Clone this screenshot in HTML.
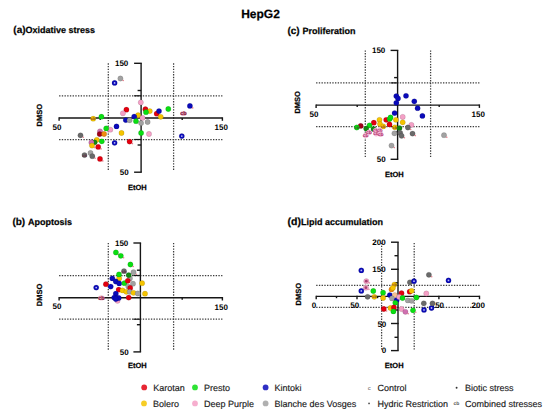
<!DOCTYPE html>
<html><head><meta charset="utf-8"><style>
html,body{margin:0;padding:0;background:#fff;overflow:hidden;width:550px;height:418px;}
text.bd{stroke:#111;stroke-width:0.25px;}
text.lg{stroke:#1a1a1a;stroke-width:0.15px;}
svg{display:block;font-family:"Liberation Sans",sans-serif;text-rendering:geometricPrecision;}
</style></head><body>
<svg width="550" height="418" viewBox="0 0 550 418">
<rect width="550" height="418" fill="#fff"/>
<text x="241.2" y="17.6" font-size="12" font-weight="bold" text-anchor="start" class="bd" >HepG2</text><text x="13.3" y="33.1" font-size="10" font-weight="bold" class="bd"><tspan>(a)</tspan><tspan font-size="9">Oxidative stress</tspan></text><text x="12.4" y="225" font-size="10" font-weight="bold" class="bd"><tspan>(b) </tspan><tspan font-size="9">Apoptosis</tspan></text><text x="287.4" y="33.6" font-size="10" font-weight="bold" class="bd"><tspan>(c) </tspan><tspan font-size="9">Proliferation</tspan></text><text x="287.6" y="224.9" font-size="10.5" font-weight="bold" class="bd"><tspan>(d)</tspan><tspan font-size="9">Lipid accumulation</tspan></text><line x1="108.3" y1="63.3" x2="108.3" y2="171.2" stroke="#3c3c3c" stroke-width="1.25" stroke-dasharray="1.35 1.35"/><line x1="173.6" y1="63.3" x2="173.6" y2="171.2" stroke="#3c3c3c" stroke-width="1.25" stroke-dasharray="1.35 1.35"/><line x1="59.1" y1="95.8" x2="222.4" y2="95.8" stroke="#3c3c3c" stroke-width="1.25" stroke-dasharray="1.35 1.35"/><line x1="59.1" y1="139.5" x2="222.4" y2="139.5" stroke="#3c3c3c" stroke-width="1.25" stroke-dasharray="1.35 1.35"/><line x1="59.1" y1="118" x2="222.4" y2="118" stroke="#161616" stroke-width="1.4"/><line x1="59.1" y1="117.3" x2="59.1" y2="120.8" stroke="#161616" stroke-width="1.4"/><line x1="222.4" y1="117.3" x2="222.4" y2="120.8" stroke="#161616" stroke-width="1.4"/><line x1="141.1" y1="63.3" x2="141.1" y2="172.2" stroke="#161616" stroke-width="1.4"/><line x1="134.1" y1="63.3" x2="141.79999999999998" y2="63.3" stroke="#161616" stroke-width="1.4"/><line x1="134.1" y1="172.2" x2="141.79999999999998" y2="172.2" stroke="#161616" stroke-width="1.4"/><line x1="137.6" y1="90.5" x2="141.1" y2="90.5" stroke="#161616" stroke-width="1.4"/><line x1="137.6" y1="145" x2="141.1" y2="145" stroke="#161616" stroke-width="1.4"/><line x1="134.1" y1="95.8" x2="141.1" y2="95.8" stroke="#161616" stroke-width="1.2"/><line x1="134.1" y1="139.5" x2="141.1" y2="139.5" stroke="#161616" stroke-width="1.2"/><line x1="100.2" y1="118" x2="100.2" y2="120" stroke="#161616" stroke-width="1.4"/><line x1="182.2" y1="118" x2="182.2" y2="120" stroke="#161616" stroke-width="1.4"/><text x="128.3" y="66.3" font-size="8" font-weight="bold" text-anchor="end" >150</text><text x="128.7" y="175.29999999999998" font-size="8" font-weight="bold" text-anchor="end" >50</text><text x="57" y="129.5" font-size="8" font-weight="bold" text-anchor="middle" >50</text><text x="221.2" y="129.79999999999998" font-size="8" font-weight="bold" text-anchor="middle" >150</text><text x="137.4" y="189.7" font-size="7.5" font-weight="bold" text-anchor="middle" class="bd" >EtOH</text><text x="0" y="0" font-size="7.5" font-weight="bold" class="bd" text-anchor="middle" transform="translate(42.4,115.2) rotate(-90)">DMSO</text><line x1="108.3" y1="243.0" x2="108.3" y2="350.9" stroke="#3c3c3c" stroke-width="1.25" stroke-dasharray="1.35 1.35"/><line x1="173.6" y1="243.0" x2="173.6" y2="350.9" stroke="#3c3c3c" stroke-width="1.25" stroke-dasharray="1.35 1.35"/><line x1="59.1" y1="275.5" x2="222.4" y2="275.5" stroke="#3c3c3c" stroke-width="1.25" stroke-dasharray="1.35 1.35"/><line x1="59.1" y1="319.2" x2="222.4" y2="319.2" stroke="#3c3c3c" stroke-width="1.25" stroke-dasharray="1.35 1.35"/><line x1="59.1" y1="297.7" x2="222.4" y2="297.7" stroke="#161616" stroke-width="1.4"/><line x1="59.1" y1="297.0" x2="59.1" y2="300.5" stroke="#161616" stroke-width="1.4"/><line x1="222.4" y1="297.0" x2="222.4" y2="300.5" stroke="#161616" stroke-width="1.4"/><line x1="140.4" y1="243.0" x2="140.4" y2="351.9" stroke="#161616" stroke-width="1.4"/><line x1="133.4" y1="243.0" x2="141.1" y2="243.0" stroke="#161616" stroke-width="1.4"/><line x1="133.4" y1="351.9" x2="141.1" y2="351.9" stroke="#161616" stroke-width="1.4"/><line x1="136.9" y1="270.2" x2="140.4" y2="270.2" stroke="#161616" stroke-width="1.4"/><line x1="136.9" y1="324.7" x2="140.4" y2="324.7" stroke="#161616" stroke-width="1.4"/><line x1="133.4" y1="275.5" x2="140.4" y2="275.5" stroke="#161616" stroke-width="1.2"/><line x1="133.4" y1="319.2" x2="140.4" y2="319.2" stroke="#161616" stroke-width="1.2"/><line x1="100.2" y1="297.7" x2="100.2" y2="299.7" stroke="#161616" stroke-width="1.4"/><line x1="182.2" y1="297.7" x2="182.2" y2="299.7" stroke="#161616" stroke-width="1.4"/><text x="128.3" y="245.99999999999997" font-size="8" font-weight="bold" text-anchor="end" >150</text><text x="128.7" y="354.99999999999994" font-size="8" font-weight="bold" text-anchor="end" >50</text><text x="57" y="309.2" font-size="8" font-weight="bold" text-anchor="middle" >50</text><text x="221.2" y="309.49999999999994" font-size="8" font-weight="bold" text-anchor="middle" >150</text><text x="137.4" y="367.6" font-size="7.5" font-weight="bold" text-anchor="middle" class="bd" >EtOH</text><text x="0" y="0" font-size="7.5" font-weight="bold" class="bd" text-anchor="middle" transform="translate(42.4,294.9) rotate(-90)">DMSO</text><line x1="365.3" y1="50.4" x2="365.3" y2="158.29999999999998" stroke="#3c3c3c" stroke-width="1.25" stroke-dasharray="1.35 1.35"/><line x1="430.6" y1="50.4" x2="430.6" y2="158.29999999999998" stroke="#3c3c3c" stroke-width="1.25" stroke-dasharray="1.35 1.35"/><line x1="316.1" y1="82.89999999999999" x2="479.4" y2="82.89999999999999" stroke="#3c3c3c" stroke-width="1.25" stroke-dasharray="1.35 1.35"/><line x1="316.1" y1="126.6" x2="479.4" y2="126.6" stroke="#3c3c3c" stroke-width="1.25" stroke-dasharray="1.35 1.35"/><line x1="316.1" y1="105.1" x2="479.4" y2="105.1" stroke="#161616" stroke-width="1.4"/><line x1="316.1" y1="104.39999999999999" x2="316.1" y2="107.89999999999999" stroke="#161616" stroke-width="1.4"/><line x1="479.4" y1="104.39999999999999" x2="479.4" y2="107.89999999999999" stroke="#161616" stroke-width="1.4"/><line x1="397.6" y1="50.4" x2="397.6" y2="159.29999999999998" stroke="#161616" stroke-width="1.4"/><line x1="390.6" y1="50.4" x2="398.3" y2="50.4" stroke="#161616" stroke-width="1.4"/><line x1="390.6" y1="159.29999999999998" x2="398.3" y2="159.29999999999998" stroke="#161616" stroke-width="1.4"/><line x1="394.1" y1="77.6" x2="397.6" y2="77.6" stroke="#161616" stroke-width="1.4"/><line x1="394.1" y1="132.1" x2="397.6" y2="132.1" stroke="#161616" stroke-width="1.4"/><line x1="390.6" y1="82.89999999999999" x2="397.6" y2="82.89999999999999" stroke="#161616" stroke-width="1.2"/><line x1="390.6" y1="126.6" x2="397.6" y2="126.6" stroke="#161616" stroke-width="1.2"/><line x1="357.2" y1="105.1" x2="357.2" y2="107.1" stroke="#161616" stroke-width="1.4"/><line x1="439.2" y1="105.1" x2="439.2" y2="107.1" stroke="#161616" stroke-width="1.4"/><text x="385.3" y="53.4" font-size="8" font-weight="bold" text-anchor="end" >150</text><text x="385.7" y="162.39999999999998" font-size="8" font-weight="bold" text-anchor="end" >50</text><text x="314" y="116.60000000000001" font-size="8" font-weight="bold" text-anchor="middle" >50</text><text x="478.2" y="116.89999999999999" font-size="8" font-weight="bold" text-anchor="middle" >150</text><text x="394.4" y="176.6" font-size="7.5" font-weight="bold" text-anchor="middle" class="bd" >EtOH</text><text x="0" y="0" font-size="7.5" font-weight="bold" class="bd" text-anchor="middle" transform="translate(300.2,102.3) rotate(-90)">DMSO</text><line x1="381.6" y1="243" x2="381.6" y2="349.6" stroke="#3c3c3c" stroke-width="1.25" stroke-dasharray="1.35 1.35"/><line x1="414.2" y1="243" x2="414.2" y2="349.6" stroke="#3c3c3c" stroke-width="1.25" stroke-dasharray="1.35 1.35"/><line x1="316.2" y1="285.4" x2="479.5" y2="285.4" stroke="#3c3c3c" stroke-width="1.25" stroke-dasharray="1.35 1.35"/><line x1="316.2" y1="307.4" x2="479.5" y2="307.4" stroke="#3c3c3c" stroke-width="1.25" stroke-dasharray="1.35 1.35"/><line x1="316.2" y1="296.4" x2="479.5" y2="296.4" stroke="#161616" stroke-width="1.4"/><line x1="316.2" y1="295.7" x2="316.2" y2="299.2" stroke="#161616" stroke-width="1.4"/><line x1="357" y1="295.7" x2="357" y2="299.2" stroke="#161616" stroke-width="1.4"/><line x1="398" y1="295.7" x2="398" y2="299.2" stroke="#161616" stroke-width="1.4"/><line x1="438.9" y1="295.7" x2="438.9" y2="299.2" stroke="#161616" stroke-width="1.4"/><line x1="479.5" y1="295.7" x2="479.5" y2="299.2" stroke="#161616" stroke-width="1.4"/><line x1="336.5" y1="296.4" x2="336.5" y2="298.2" stroke="#161616" stroke-width="1.4"/><line x1="377.6" y1="296.4" x2="377.6" y2="298.2" stroke="#161616" stroke-width="1.4"/><line x1="418.6" y1="296.4" x2="418.6" y2="298.2" stroke="#161616" stroke-width="1.4"/><line x1="459.3" y1="296.4" x2="459.3" y2="298.2" stroke="#161616" stroke-width="1.4"/><line x1="398" y1="242.2" x2="398" y2="350.6" stroke="#161616" stroke-width="1.4"/><line x1="391" y1="242.2" x2="398.7" y2="242.2" stroke="#161616" stroke-width="1.4"/><line x1="391" y1="269.3" x2="398.7" y2="269.3" stroke="#161616" stroke-width="1.4"/><line x1="391" y1="323.5" x2="398.7" y2="323.5" stroke="#161616" stroke-width="1.4"/><line x1="391" y1="350.6" x2="398.7" y2="350.6" stroke="#161616" stroke-width="1.4"/><line x1="394.5" y1="255.7" x2="398" y2="255.7" stroke="#161616" stroke-width="1.4"/><line x1="394.5" y1="282.8" x2="398" y2="282.8" stroke="#161616" stroke-width="1.4"/><line x1="394.5" y1="310" x2="398" y2="310" stroke="#161616" stroke-width="1.4"/><line x1="394.5" y1="337.3" x2="398" y2="337.3" stroke="#161616" stroke-width="1.4"/><text x="385.6" y="244.79999999999998" font-size="8" font-weight="bold" text-anchor="end" >200</text><text x="385.6" y="272.0" font-size="8" font-weight="bold" text-anchor="end" >150</text><text x="386.3" y="326.7" font-size="8" font-weight="bold" text-anchor="end" >50</text><text x="386.3" y="353.4" font-size="8" font-weight="bold" text-anchor="end" >0</text><text x="314" y="308.3" font-size="8" font-weight="bold" text-anchor="middle" >0</text><text x="354.8" y="308.3" font-size="8" font-weight="bold" text-anchor="middle" >50</text><text x="437.4" y="308.3" font-size="8" font-weight="bold" text-anchor="middle" >150</text><text x="478.3" y="308.3" font-size="8" font-weight="bold" text-anchor="middle" >200</text><text x="394.2" y="368.4" font-size="7.5" font-weight="bold" text-anchor="middle" class="bd" >EtOH</text><text x="0" y="0" font-size="7.5" font-weight="bold" class="bd" text-anchor="middle" transform="translate(301.4,294.2) rotate(-90)">DMSO</text><circle cx="140.8" cy="102.4" r="2.65" fill="#f4a0c6" stroke="#000" stroke-opacity="0.18" stroke-width="0.6"/><circle cx="126.4" cy="109.7" r="2.65" fill="#e3000f" stroke="#000" stroke-opacity="0.18" stroke-width="0.6"/><circle cx="122.9" cy="113.3" r="2.65" fill="#f4a0c6" stroke="#000" stroke-opacity="0.18" stroke-width="0.6"/><circle cx="145.4" cy="109.2" r="2.65" fill="#e3000f" stroke="#000" stroke-opacity="0.18" stroke-width="0.6"/><circle cx="149.8" cy="111.1" r="2.65" fill="#f5c400" stroke="#000" stroke-opacity="0.18" stroke-width="0.6"/><circle cx="146" cy="112.2" r="2.65" fill="#0ade12" stroke="#000" stroke-opacity="0.18" stroke-width="0.6"/><circle cx="156.7" cy="113.7" r="2.65" fill="#e3000f" stroke="#000" stroke-opacity="0.18" stroke-width="0.6"/><circle cx="159" cy="111.1" r="2.65" fill="#0a0aba" stroke="#000" stroke-opacity="0.18" stroke-width="0.6"/><circle cx="160.7" cy="116.8" r="2.65" fill="#f5c400" stroke="#000" stroke-opacity="0.18" stroke-width="0.6"/><circle cx="168.3" cy="109" r="2.65" fill="#0ade12" stroke="#000" stroke-opacity="0.18" stroke-width="0.6"/><circle cx="138.1" cy="115.2" r="2.65" fill="#f5c400" stroke="#000" stroke-opacity="0.18" stroke-width="0.6"/><circle cx="134.2" cy="116.6" r="2.65" fill="#0a0aba" stroke="#000" stroke-opacity="0.18" stroke-width="0.6"/><circle cx="125.8" cy="120.1" r="2.65" fill="#0a0aba" stroke="#000" stroke-opacity="0.18" stroke-width="0.6"/><circle cx="129.6" cy="120.3" r="2.65" fill="#a2a2a2" stroke="#000" stroke-opacity="0.18" stroke-width="0.6"/><circle cx="142.5" cy="117.9" r="2.65" fill="#f4a0c6" stroke="#000" stroke-opacity="0.18" stroke-width="0.6"/><circle cx="136" cy="121.2" r="2.65" fill="#0ade12" stroke="#000" stroke-opacity="0.18" stroke-width="0.6"/><circle cx="141.1" cy="123.1" r="2.65" fill="#a2a2a2" stroke="#000" stroke-opacity="0.18" stroke-width="0.6"/><circle cx="147.6" cy="122" r="2.65" fill="#a2a2a2" stroke="#000" stroke-opacity="0.18" stroke-width="0.6"/><circle cx="116.5" cy="126.4" r="2.65" fill="#0a0aba" stroke="#000" stroke-opacity="0.18" stroke-width="0.6"/><circle cx="110.3" cy="129.7" r="2.65" fill="#f4a0c6" stroke="#000" stroke-opacity="0.18" stroke-width="0.6"/><circle cx="121.5" cy="133" r="2.65" fill="#f5c400" stroke="#000" stroke-opacity="0.18" stroke-width="0.6"/><circle cx="141.1" cy="133" r="2.65" fill="#0ade12" stroke="#000" stroke-opacity="0.18" stroke-width="0.6"/><circle cx="149" cy="134" r="2.65" fill="#f4a0c6" stroke="#000" stroke-opacity="0.18" stroke-width="0.6"/><circle cx="129.6" cy="141.6" r="2.65" fill="#e3000f" stroke="#000" stroke-opacity="0.18" stroke-width="0.6"/><circle cx="132.4" cy="143.6" r="0.8" fill="#e06070" opacity="0.8"/><circle cx="120.4" cy="78.5" r="2.65" fill="#a2a2a2" stroke="#000" stroke-opacity="0.18" stroke-width="0.6"/><circle cx="123.2" cy="80.5" r="0.8" fill="#e06070" opacity="0.8"/><circle cx="114.6" cy="82.9" r="2.65" fill="#0a0aba" stroke="#000" stroke-opacity="0.18" stroke-width="0.6"/><circle cx="114.6" cy="82.9" r="0.9" fill="#b8b8f4"/><circle cx="189.9" cy="105.9" r="2.65" fill="#0a0aba" stroke="#000" stroke-opacity="0.18" stroke-width="0.6"/><circle cx="192.70000000000002" cy="107.9" r="0.8" fill="#e06070" opacity="0.8"/><ellipse cx="183.5" cy="113.5" rx="3.2" ry="2.3" fill="#dc98b0"/><text x="183.5" y="115.3" font-size="5.5" font-weight="bold" text-anchor="middle" fill="#80103a">cb</text><circle cx="181.8" cy="136.1" r="2.65" fill="#0a0aba" stroke="#000" stroke-opacity="0.18" stroke-width="0.6"/><circle cx="181.8" cy="136.1" r="0.9" fill="#b8b8f4"/><circle cx="93.2" cy="118.7" r="2.65" fill="#f5c400" stroke="#000" stroke-opacity="0.18" stroke-width="0.6"/><text x="93.2" y="120.10000000000001" font-size="4" font-weight="bold" text-anchor="middle" fill="#5a1030" opacity="0.7">cb</text><circle cx="101.4" cy="116.7" r="2.65" fill="#0ade12" stroke="#000" stroke-opacity="0.18" stroke-width="0.6"/><circle cx="106.2" cy="128.4" r="2.65" fill="#0ade12" stroke="#000" stroke-opacity="0.18" stroke-width="0.6"/><circle cx="100" cy="131.3" r="2.65" fill="#d070b0" stroke="#000" stroke-opacity="0.18" stroke-width="0.6"/><circle cx="99.7" cy="134.1" r="2.65" fill="#a0001a" stroke="#000" stroke-opacity="0.18" stroke-width="0.6"/><circle cx="104.1" cy="134" r="2.65" fill="#f08a10" stroke="#000" stroke-opacity="0.18" stroke-width="0.6"/><circle cx="80.5" cy="135.3" r="2.65" fill="#6a6a6a" stroke="#000" stroke-opacity="0.18" stroke-width="0.6"/><circle cx="83.3" cy="137.3" r="0.8" fill="#e06070" opacity="0.8"/><circle cx="96.8" cy="139.8" r="2.65" fill="#f5c400" stroke="#000" stroke-opacity="0.18" stroke-width="0.6"/><circle cx="101.8" cy="141.3" r="2.65" fill="#0ade12" stroke="#000" stroke-opacity="0.18" stroke-width="0.6"/><circle cx="94.6" cy="142.3" r="2.65" fill="#118811" stroke="#000" stroke-opacity="0.18" stroke-width="0.6"/><circle cx="91.4" cy="142.5" r="2.65" fill="#d070b0" stroke="#000" stroke-opacity="0.18" stroke-width="0.6"/><circle cx="92" cy="145.6" r="2.65" fill="#f5c400" stroke="#000" stroke-opacity="0.18" stroke-width="0.6"/><circle cx="94.8" cy="147.6" r="0.8" fill="#e06070" opacity="0.8"/><circle cx="98.2" cy="146.9" r="2.65" fill="#e3000f" stroke="#000" stroke-opacity="0.18" stroke-width="0.6"/><circle cx="101.0" cy="148.9" r="0.8" fill="#e06070" opacity="0.8"/><circle cx="114.6" cy="142.8" r="2.65" fill="#0a0aba" stroke="#000" stroke-opacity="0.18" stroke-width="0.6"/><circle cx="114.6" cy="142.8" r="0.9" fill="#b8b8f4"/><circle cx="84.5" cy="155.1" r="2.65" fill="#6a6a6a" stroke="#000" stroke-opacity="0.18" stroke-width="0.6"/><text x="84.5" y="156.5" font-size="4" font-weight="bold" text-anchor="middle" fill="#5a1030" opacity="0.7">cb</text><circle cx="90.5" cy="153" r="2.65" fill="#a2a2a2" stroke="#000" stroke-opacity="0.18" stroke-width="0.6"/><circle cx="92.3" cy="156.2" r="2.65" fill="#6a6a6a" stroke="#000" stroke-opacity="0.18" stroke-width="0.6"/><circle cx="95.1" cy="158.2" r="0.8" fill="#e06070" opacity="0.8"/><circle cx="100" cy="158.9" r="2.65" fill="#e3000f" stroke="#000" stroke-opacity="0.18" stroke-width="0.6"/><circle cx="102.8" cy="160.9" r="0.8" fill="#e06070" opacity="0.8"/><circle cx="115.9" cy="252.5" r="2.65" fill="#0ade12" stroke="#000" stroke-opacity="0.18" stroke-width="0.6"/><circle cx="118.7" cy="254.5" r="0.8" fill="#e06070" opacity="0.8"/><circle cx="120.8" cy="255.8" r="2.65" fill="#0ade12" stroke="#000" stroke-opacity="0.18" stroke-width="0.6"/><circle cx="123.6" cy="257.8" r="0.8" fill="#e06070" opacity="0.8"/><circle cx="130.4" cy="264.5" r="2.65" fill="#0ade12" stroke="#000" stroke-opacity="0.18" stroke-width="0.6"/><circle cx="133.20000000000002" cy="266.5" r="0.8" fill="#e06070" opacity="0.8"/><circle cx="124" cy="271.2" r="2.65" fill="#6a6a6a" stroke="#000" stroke-opacity="0.18" stroke-width="0.6"/><text x="124" y="272.59999999999997" font-size="4" font-weight="bold" text-anchor="middle" fill="#5a1030" opacity="0.7">cb</text><circle cx="133.5" cy="272.2" r="2.65" fill="#a2a2a2" stroke="#000" stroke-opacity="0.18" stroke-width="0.6"/><circle cx="136.3" cy="274.2" r="0.8" fill="#e06070" opacity="0.8"/><circle cx="119.2" cy="278.4" r="2.65" fill="#f5c400" stroke="#000" stroke-opacity="0.18" stroke-width="0.6"/><circle cx="129.9" cy="278.4" r="2.65" fill="#a2a2a2" stroke="#000" stroke-opacity="0.18" stroke-width="0.6"/><circle cx="119" cy="274.4" r="2.65" fill="#0ade12" stroke="#000" stroke-opacity="0.18" stroke-width="0.6"/><circle cx="128.7" cy="275.1" r="2.65" fill="#118811" stroke="#000" stroke-opacity="0.18" stroke-width="0.6"/><circle cx="112.3" cy="278.4" r="2.65" fill="#0a0aba" stroke="#000" stroke-opacity="0.18" stroke-width="0.6"/><circle cx="115.8" cy="281.5" r="2.65" fill="#0a0aba" stroke="#000" stroke-opacity="0.18" stroke-width="0.6"/><circle cx="119.2" cy="283.4" r="2.65" fill="#0a0aba" stroke="#000" stroke-opacity="0.18" stroke-width="0.6"/><circle cx="105.9" cy="284.2" r="2.65" fill="#e3000f" stroke="#000" stroke-opacity="0.18" stroke-width="0.6"/><circle cx="110.7" cy="286.6" r="2.65" fill="#0a0aba" stroke="#000" stroke-opacity="0.18" stroke-width="0.6"/><circle cx="124.4" cy="283.2" r="2.65" fill="#0ade12" stroke="#000" stroke-opacity="0.18" stroke-width="0.6"/><circle cx="127.8" cy="280.8" r="2.65" fill="#e3000f" stroke="#000" stroke-opacity="0.18" stroke-width="0.6"/><circle cx="133" cy="283.7" r="2.65" fill="#a2a2a2" stroke="#000" stroke-opacity="0.18" stroke-width="0.6"/><circle cx="142.1" cy="283.2" r="2.65" fill="#f5c400" stroke="#000" stroke-opacity="0.18" stroke-width="0.6"/><circle cx="128.3" cy="286.6" r="2.65" fill="#a2a2a2" stroke="#000" stroke-opacity="0.18" stroke-width="0.6"/><circle cx="130.2" cy="288" r="2.65" fill="#e3000f" stroke="#000" stroke-opacity="0.18" stroke-width="0.6"/><circle cx="118.7" cy="289.7" r="2.65" fill="#e3000f" stroke="#000" stroke-opacity="0.18" stroke-width="0.6"/><circle cx="122.5" cy="290.4" r="2.65" fill="#f5c400" stroke="#000" stroke-opacity="0.18" stroke-width="0.6"/><circle cx="126.3" cy="291.8" r="2.65" fill="#f5c400" stroke="#000" stroke-opacity="0.18" stroke-width="0.6"/><circle cx="129.7" cy="291.8" r="2.65" fill="#a2a2a2" stroke="#000" stroke-opacity="0.18" stroke-width="0.6"/><circle cx="133.5" cy="292.8" r="2.65" fill="#f5c400" stroke="#000" stroke-opacity="0.18" stroke-width="0.6"/><circle cx="137.8" cy="293.5" r="2.65" fill="#a2a2a2" stroke="#000" stroke-opacity="0.18" stroke-width="0.6"/><circle cx="145" cy="293.7" r="2.65" fill="#f5c400" stroke="#000" stroke-opacity="0.18" stroke-width="0.6"/><circle cx="117.5" cy="300.8" r="2.65" fill="#f4a0c6" stroke="#000" stroke-opacity="0.18" stroke-width="0.6"/><circle cx="115.8" cy="293.7" r="2.65" fill="#0a0aba" stroke="#000" stroke-opacity="0.18" stroke-width="0.6"/><circle cx="114.2" cy="297.6" r="2.65" fill="#0a0aba" stroke="#000" stroke-opacity="0.18" stroke-width="0.6"/><circle cx="118.7" cy="298" r="2.65" fill="#0a0aba" stroke="#000" stroke-opacity="0.18" stroke-width="0.6"/><circle cx="115.8" cy="299" r="2.65" fill="#0a0aba" stroke="#000" stroke-opacity="0.18" stroke-width="0.6"/><circle cx="128.7" cy="297.6" r="2.65" fill="#e3000f" stroke="#000" stroke-opacity="0.18" stroke-width="0.6"/><circle cx="96.2" cy="287.6" r="2.65" fill="#0a0aba" stroke="#000" stroke-opacity="0.18" stroke-width="0.6"/><circle cx="96.2" cy="287.6" r="0.9" fill="#b8b8f4"/><ellipse cx="101.4" cy="297.9" rx="3.2" ry="2.3" fill="#dc98b0"/><text x="101.4" y="299.7" font-size="5.5" font-weight="bold" text-anchor="middle" fill="#80103a">cb</text><circle cx="396.3" cy="96.1" r="2.65" fill="#0a0aba" stroke="#000" stroke-opacity="0.18" stroke-width="0.6"/><circle cx="398" cy="98.4" r="2.65" fill="#0a0aba" stroke="#000" stroke-opacity="0.18" stroke-width="0.6"/><circle cx="406" cy="95.8" r="2.65" fill="#0a0aba" stroke="#000" stroke-opacity="0.18" stroke-width="0.6"/><circle cx="414.3" cy="101.3" r="2.65" fill="#0a0aba" stroke="#000" stroke-opacity="0.18" stroke-width="0.6"/><circle cx="396.3" cy="102.8" r="2.65" fill="#0a0aba" stroke="#000" stroke-opacity="0.18" stroke-width="0.6"/><circle cx="417.6" cy="108.2" r="2.65" fill="#0a0aba" stroke="#000" stroke-opacity="0.18" stroke-width="0.6"/><circle cx="422.4" cy="115.9" r="2.65" fill="#0a0aba" stroke="#000" stroke-opacity="0.18" stroke-width="0.6"/><circle cx="394.6" cy="113.1" r="2.65" fill="#0a0aba" stroke="#000" stroke-opacity="0.18" stroke-width="0.6"/><circle cx="402.7" cy="116.9" r="2.65" fill="#f4a0c6" stroke="#000" stroke-opacity="0.18" stroke-width="0.6"/><circle cx="402.7" cy="122.3" r="2.65" fill="#f5c400" stroke="#000" stroke-opacity="0.18" stroke-width="0.6"/><circle cx="411.4" cy="124.9" r="2.65" fill="#f4a0c6" stroke="#000" stroke-opacity="0.18" stroke-width="0.6"/><circle cx="379.5" cy="119.8" r="2.65" fill="#f5c400" stroke="#000" stroke-opacity="0.18" stroke-width="0.6"/><circle cx="380" cy="124.1" r="2.65" fill="#f5c400" stroke="#000" stroke-opacity="0.18" stroke-width="0.6"/><circle cx="386.2" cy="119.8" r="2.65" fill="#e3000f" stroke="#000" stroke-opacity="0.18" stroke-width="0.6"/><circle cx="389.6" cy="119.1" r="2.65" fill="#0ade12" stroke="#000" stroke-opacity="0.18" stroke-width="0.6"/><circle cx="390.5" cy="117.5" r="2.65" fill="#0ade12" stroke="#000" stroke-opacity="0.18" stroke-width="0.6"/><circle cx="389.5" cy="124.4" r="2.65" fill="#e3000f" stroke="#000" stroke-opacity="0.18" stroke-width="0.6"/><circle cx="395.9" cy="119.8" r="2.65" fill="#f5c400" stroke="#000" stroke-opacity="0.18" stroke-width="0.6"/><circle cx="373.8" cy="122.7" r="2.65" fill="#e3000f" stroke="#000" stroke-opacity="0.18" stroke-width="0.6"/><circle cx="369.5" cy="125.3" r="2.65" fill="#0ade12" stroke="#000" stroke-opacity="0.18" stroke-width="0.6"/><circle cx="360.7" cy="125.9" r="2.65" fill="#a0001a" stroke="#000" stroke-opacity="0.18" stroke-width="0.6"/><circle cx="356.8" cy="127.5" r="2.65" fill="#0ade12" stroke="#000" stroke-opacity="0.18" stroke-width="0.6"/><text x="356.8" y="128.9" font-size="4" font-weight="bold" text-anchor="middle" fill="#5a1030" opacity="0.7">cb</text><circle cx="383.2" cy="126.4" r="2.65" fill="#f5c400" stroke="#000" stroke-opacity="0.18" stroke-width="0.6"/><text x="383.2" y="127.80000000000001" font-size="4" font-weight="bold" text-anchor="middle" fill="#5a1030" opacity="0.7">cb</text><circle cx="366.2" cy="128.6" r="2.65" fill="#118811" stroke="#000" stroke-opacity="0.18" stroke-width="0.6"/><circle cx="369.0" cy="130.6" r="0.8" fill="#e06070" opacity="0.8"/><circle cx="373.5" cy="129.1" r="2.65" fill="#118811" stroke="#000" stroke-opacity="0.18" stroke-width="0.6"/><circle cx="394.9" cy="127.3" r="2.65" fill="#f5c400" stroke="#000" stroke-opacity="0.18" stroke-width="0.6"/><text x="394.9" y="128.7" font-size="4" font-weight="bold" text-anchor="middle" fill="#5a1030" opacity="0.7">cb</text><circle cx="399.5" cy="128.1" r="2.65" fill="#118811" stroke="#000" stroke-opacity="0.18" stroke-width="0.6"/><circle cx="365.6" cy="135.4" r="2.7" fill="#f2b8d6"/><text x="365.6" y="137.0" font-size="5" font-weight="bold" text-anchor="middle" fill="#b0306e">cb</text><circle cx="369" cy="132.5" r="2.7" fill="#f2b8d6"/><text x="369" y="134.1" font-size="5" font-weight="bold" text-anchor="middle" fill="#b0306e">cb</text><circle cx="375.6" cy="130.7" r="2.7" fill="#f2b8d6"/><text x="375.6" y="132.29999999999998" font-size="5" font-weight="bold" text-anchor="middle" fill="#b0306e">cb</text><circle cx="376.2" cy="133.8" r="2.7" fill="#f2b8d6"/><text x="376.2" y="135.4" font-size="5" font-weight="bold" text-anchor="middle" fill="#b0306e">cb</text><circle cx="379.7" cy="130.2" r="2.7" fill="#f2b8d6"/><text x="379.7" y="131.79999999999998" font-size="5" font-weight="bold" text-anchor="middle" fill="#b0306e">cb</text><circle cx="380.6" cy="134.3" r="2.7" fill="#f2b8d6"/><text x="380.6" y="135.9" font-size="5" font-weight="bold" text-anchor="middle" fill="#b0306e">cb</text><circle cx="394.4" cy="133.3" r="2.65" fill="#a2a2a2" stroke="#000" stroke-opacity="0.18" stroke-width="0.6"/><circle cx="400.2" cy="132.9" r="2.65" fill="#6a6a6a" stroke="#000" stroke-opacity="0.18" stroke-width="0.6"/><circle cx="401.6" cy="135.8" r="2.65" fill="#6a6a6a" stroke="#000" stroke-opacity="0.18" stroke-width="0.6"/><circle cx="404.40000000000003" cy="137.8" r="0.8" fill="#e06070" opacity="0.8"/><circle cx="407.9" cy="127.5" r="2.65" fill="#6a6a6a" stroke="#000" stroke-opacity="0.18" stroke-width="0.6"/><circle cx="410.7" cy="129.5" r="0.8" fill="#e06070" opacity="0.8"/><circle cx="412.5" cy="133.6" r="2.65" fill="#6a6a6a" stroke="#000" stroke-opacity="0.18" stroke-width="0.6"/><circle cx="415.3" cy="135.6" r="0.8" fill="#e06070" opacity="0.8"/><circle cx="391.5" cy="145.6" r="2.65" fill="#a2a2a2" stroke="#000" stroke-opacity="0.18" stroke-width="0.6"/><circle cx="394.3" cy="147.6" r="0.8" fill="#e06070" opacity="0.8"/><circle cx="444" cy="135.2" r="2.65" fill="#a2a2a2" stroke="#000" stroke-opacity="0.18" stroke-width="0.6"/><circle cx="446.8" cy="137.2" r="0.8" fill="#e06070" opacity="0.8"/><circle cx="361.3" cy="270.4" r="2.65" fill="#0a0aba" stroke="#000" stroke-opacity="0.18" stroke-width="0.6"/><circle cx="361.3" cy="270.4" r="0.9" fill="#b8b8f4"/><circle cx="366.3" cy="281.2" r="2.65" fill="#f4a0c6" stroke="#000" stroke-opacity="0.18" stroke-width="0.6"/><circle cx="366.3" cy="281.2" r="1.4" fill="#983060" opacity="0.85"/><circle cx="369.3" cy="282.8" r="0.9" fill="#e07090" opacity="0.7"/><circle cx="365.9" cy="287.7" r="2.65" fill="#f4a0c6" stroke="#000" stroke-opacity="0.18" stroke-width="0.6"/><circle cx="365.9" cy="287.7" r="1.4" fill="#983060" opacity="0.85"/><circle cx="368.9" cy="289.3" r="0.9" fill="#e07090" opacity="0.7"/><circle cx="361.3" cy="290.9" r="2.65" fill="#0a0aba" stroke="#000" stroke-opacity="0.18" stroke-width="0.6"/><circle cx="361.3" cy="290.9" r="0.9" fill="#b8b8f4"/><circle cx="373.3" cy="291" r="2.65" fill="#0ade12" stroke="#000" stroke-opacity="0.18" stroke-width="0.6"/><circle cx="383.1" cy="292.7" r="2.65" fill="#0ade12" stroke="#000" stroke-opacity="0.18" stroke-width="0.6"/><circle cx="367.6" cy="296.8" r="2.65" fill="#6a6a6a" stroke="#000" stroke-opacity="0.18" stroke-width="0.6"/><circle cx="374.3" cy="296.8" r="2.65" fill="#f5c400" stroke="#000" stroke-opacity="0.18" stroke-width="0.6"/><text x="374.3" y="298.2" font-size="4" font-weight="bold" text-anchor="middle" fill="#5a1030" opacity="0.7">cb</text><circle cx="383.1" cy="298" r="2.65" fill="#f5c400" stroke="#000" stroke-opacity="0.18" stroke-width="0.6"/><circle cx="394.4" cy="284.6" r="2.65" fill="#f5c400" stroke="#000" stroke-opacity="0.18" stroke-width="0.6"/><text x="394.4" y="286.0" font-size="4" font-weight="bold" text-anchor="middle" fill="#5a1030" opacity="0.7">cb</text><circle cx="391.5" cy="289.4" r="2.65" fill="#f08a10" stroke="#000" stroke-opacity="0.18" stroke-width="0.6"/><circle cx="392.9" cy="287.9" r="2.65" fill="#f5c400" stroke="#000" stroke-opacity="0.18" stroke-width="0.6"/><circle cx="389.8" cy="295.1" r="2.65" fill="#0a0aba" stroke="#000" stroke-opacity="0.18" stroke-width="0.6"/><circle cx="394.8" cy="295.1" r="2.65" fill="#f6c090" stroke="#000" stroke-opacity="0.18" stroke-width="0.6"/><circle cx="392" cy="298.4" r="2.65" fill="#a2a2a2" stroke="#000" stroke-opacity="0.18" stroke-width="0.6"/><circle cx="396.7" cy="300.1" r="2.65" fill="#0a0aba" stroke="#000" stroke-opacity="0.18" stroke-width="0.6"/><circle cx="395.3" cy="302.8" r="2.65" fill="#0ade12" stroke="#000" stroke-opacity="0.18" stroke-width="0.6"/><circle cx="401.5" cy="293.2" r="2.65" fill="#e3000f" stroke="#000" stroke-opacity="0.18" stroke-width="0.6"/><circle cx="399.1" cy="297" r="2.65" fill="#f4a0c6" stroke="#000" stroke-opacity="0.18" stroke-width="0.6"/><circle cx="402.5" cy="298" r="2.65" fill="#0ade12" stroke="#000" stroke-opacity="0.18" stroke-width="0.6"/><circle cx="409.9" cy="282.3" r="2.65" fill="#6a6a6a" stroke="#000" stroke-opacity="0.18" stroke-width="0.6"/><circle cx="414" cy="281.2" r="2.65" fill="#0a0aba" stroke="#000" stroke-opacity="0.18" stroke-width="0.6"/><circle cx="414" cy="281.2" r="0.9" fill="#b8b8f4"/><circle cx="409.7" cy="291.7" r="2.65" fill="#e3000f" stroke="#000" stroke-opacity="0.18" stroke-width="0.6"/><circle cx="411.6" cy="290.8" r="2.65" fill="#f5c400" stroke="#000" stroke-opacity="0.18" stroke-width="0.6"/><circle cx="416.4" cy="297.5" r="2.65" fill="#0ade12" stroke="#000" stroke-opacity="0.18" stroke-width="0.6"/><circle cx="407.8" cy="300.4" r="2.65" fill="#a2a2a2" stroke="#000" stroke-opacity="0.18" stroke-width="0.6"/><circle cx="411.6" cy="300.8" r="2.65" fill="#a2a2a2" stroke="#000" stroke-opacity="0.18" stroke-width="0.6"/><circle cx="383.8" cy="309" r="2.65" fill="#e3000f" stroke="#000" stroke-opacity="0.18" stroke-width="0.6"/><circle cx="386.6" cy="311" r="0.8" fill="#e06070" opacity="0.8"/><circle cx="390.5" cy="308" r="2.65" fill="#f5c400" stroke="#000" stroke-opacity="0.18" stroke-width="0.6"/><circle cx="393.9" cy="307.5" r="2.65" fill="#e3000f" stroke="#000" stroke-opacity="0.18" stroke-width="0.6"/><circle cx="393.4" cy="311.4" r="2.65" fill="#0ade12" stroke="#000" stroke-opacity="0.18" stroke-width="0.6"/><circle cx="401.5" cy="309" r="2.65" fill="#f4a0c6" stroke="#000" stroke-opacity="0.18" stroke-width="0.6"/><circle cx="405.4" cy="311.8" r="2.65" fill="#d070b0" stroke="#000" stroke-opacity="0.18" stroke-width="0.6"/><circle cx="408.2" cy="313.8" r="0.8" fill="#e06070" opacity="0.8"/><circle cx="413" cy="310.3" r="2.65" fill="#0ade12" stroke="#000" stroke-opacity="0.18" stroke-width="0.6"/><circle cx="415.8" cy="312.3" r="0.8" fill="#e06070" opacity="0.8"/><circle cx="424" cy="309.9" r="2.65" fill="#0a0aba" stroke="#000" stroke-opacity="0.18" stroke-width="0.6"/><circle cx="424" cy="309.9" r="0.9" fill="#b8b8f4"/><circle cx="431.5" cy="308" r="2.65" fill="#0a0aba" stroke="#000" stroke-opacity="0.18" stroke-width="0.6"/><circle cx="431.5" cy="308" r="0.9" fill="#b8b8f4"/><circle cx="423.8" cy="303.3" r="2.65" fill="#6a6a6a" stroke="#000" stroke-opacity="0.18" stroke-width="0.6"/><circle cx="432.5" cy="303.3" r="2.65" fill="#6a6a6a" stroke="#000" stroke-opacity="0.18" stroke-width="0.6"/><circle cx="426.3" cy="293.5" r="2.65" fill="#f4a0c6" stroke="#000" stroke-opacity="0.18" stroke-width="0.6"/><circle cx="428.9" cy="274.8" r="2.65" fill="#6a6a6a" stroke="#000" stroke-opacity="0.18" stroke-width="0.6"/><circle cx="431.7" cy="276.8" r="0.8" fill="#e06070" opacity="0.8"/><circle cx="448.5" cy="280.4" r="2.65" fill="#0a0aba" stroke="#000" stroke-opacity="0.18" stroke-width="0.6"/><circle cx="448.5" cy="280.4" r="0.9" fill="#b8b8f4"/><circle cx="144.2" cy="387.4" r="2.9" fill="#e3000f" opacity="0.85"/><text x="153.2" y="391.2" font-size="9" font-weight="normal" text-anchor="start" fill="#1a1a1a" class="lg">Karotan</text><circle cx="195" cy="387.4" r="2.9" fill="#0ade12" opacity="0.85"/><text x="204" y="391.2" font-size="9" font-weight="normal" text-anchor="start" fill="#1a1a1a" class="lg">Presto</text><circle cx="265.6" cy="387.4" r="2.9" fill="#0a0aba" opacity="0.85"/><text x="274.6" y="391.2" font-size="9" font-weight="normal" text-anchor="start" fill="#1a1a1a" class="lg">Kintoki</text><circle cx="144" cy="403.4" r="2.9" fill="#f5c400" opacity="0.85"/><text x="153" y="406.59999999999997" font-size="9" font-weight="normal" text-anchor="start" fill="#1a1a1a" class="lg">Bolero</text><circle cx="195" cy="403.4" r="2.9" fill="#f4a0c6" opacity="0.85"/><text x="204" y="406.59999999999997" font-size="9" font-weight="normal" text-anchor="start" fill="#1a1a1a" class="lg">Deep Purple</text><circle cx="265.6" cy="403.4" r="2.9" fill="#a2a2a2" opacity="0.85"/><text x="274.6" y="406.59999999999997" font-size="9" font-weight="normal" text-anchor="start" fill="#1a1a1a" class="lg">Blanche des Vosges</text><text x="369.3" y="389.7" font-size="5.5" font-weight="bold" text-anchor="middle" fill="#8a8a8a">c</text><text x="377.6" y="391.2" font-size="9" font-weight="normal" text-anchor="start" fill="#1a1a1a" class="lg">Control</text><circle cx="456.59999999999997" cy="387.7" r="0.95" fill="#333"/><text x="465.0" y="391.2" font-size="9" font-weight="normal" text-anchor="start" fill="#1a1a1a" class="lg">Biotic stress</text><rect x="368.2" y="402.7" width="1.7" height="1.5" fill="#555"/><text x="377.6" y="406.59999999999997" font-size="9" font-weight="normal" text-anchor="start" fill="#1a1a1a" class="lg">Hydric Restriction</text><text x="456.4" y="404.9" font-size="5" font-weight="bold" text-anchor="middle" fill="#555">cb</text><text x="465.0" y="406.59999999999997" font-size="9" font-weight="normal" text-anchor="start" fill="#1a1a1a" class="lg">Combined stresses</text>
</svg></body></html>
